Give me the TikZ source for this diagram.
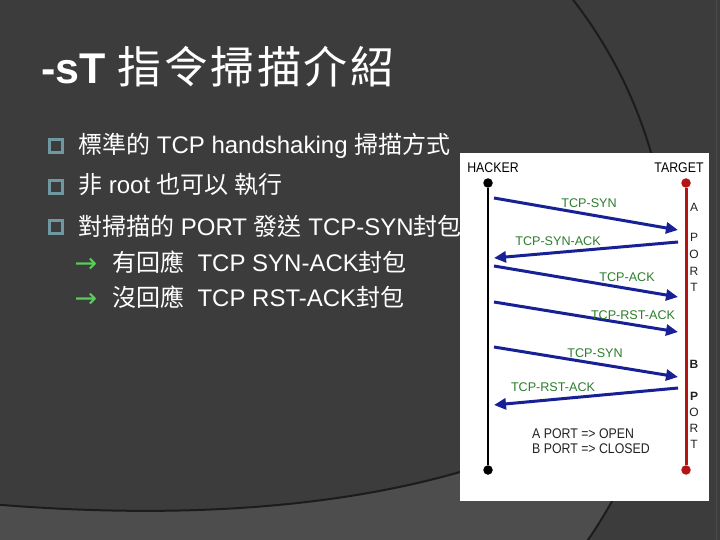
\documentclass[tikz,border=0pt]{standalone}
\usepackage{fontspec}
\setmainfont{Liberation Sans}
\newfontfamily\cjk{Noto Sans CJK TC}
\newfontfamily\djv{DejaVu Sans}
\newfontfamily\diagc{Liberation Sans}[FakeStretch=0.88]
\usetikzlibrary{arrows.meta}
\definecolor{bg}{HTML}{3C3C3C}
\definecolor{bglight}{HTML}{4D4D4D}
\definecolor{curvec}{HTML}{1C1C1C}
\definecolor{edgec}{HTML}{4A4A4A}
\definecolor{bulletc}{RGB}{110,152,162}
\definecolor{arrowgreen}{RGB}{90,205,90}
\definecolor{msgblue}{RGB}{24,32,150}
\definecolor{lblgreen}{RGB}{45,125,45}
\definecolor{tgtred}{RGB}{180,20,20}
\definecolor{inkc}{HTML}{222222}
\begin{document}
\begin{tikzpicture}[x=1pt,y=-1pt,
  dot/.style={circle, inner sep=0pt, minimum size=9.5pt},
  msg/.style={draw=msgblue, line width=3pt, -{Triangle[length=12pt,width=11pt]}},
  lbl/.style={text=lblgreen, font=\fontsize{12.6}{14}\selectfont, inner sep=0pt},
  hdr/.style={text=black, font=\diagc\fontsize{14}{16}\selectfont, inner sep=0pt, anchor=base},
  portl/.style={text=inkc, font=\fontsize{12}{14}\selectfont, inner sep=0pt},
  note/.style={text=inkc, font=\diagc\fontsize{14}{16}\selectfont, inner sep=0pt, anchor=base west},
  body/.style={text=white, font=\fontsize{24}{28}\selectfont, inner sep=0pt, anchor=base west},
  bulletbox/.style={draw=bulletc, line width=3pt, minimum size=13.5pt, inner sep=0pt},
  garrow/.style={text=arrowgreen, font=\djv\fontsize{27}{30}\selectfont, inner sep=0pt}
]
\useasboundingbox (0,0) rectangle (720,540);
\fill[bg] (0,0) rectangle (720,540);
\begin{scope}
  \clip (0,0) rectangle (720,540);
  \begin{scope}
    \clip (212,280) circle (457pt);
    \fill[bglight] (-10,504) .. controls (120,515) and (300,518) .. (460,472)
      .. controls (540,450) and (600,420) .. (700,350) -- (740,350) -- (740,560) -- (-10,560) -- cycle;
  \end{scope}
  \draw[curvec, line width=2pt] (-10,504) .. controls (120,515) and (300,518) .. (460,472)
      .. controls (540,450) and (600,420) .. (700,350);
  \draw[curvec, line width=2pt] (212,280) circle (457pt);
  \draw[edgec, line width=1.5pt] (716.5,0) -- (716.5,540);
\end{scope}

% diagram panel
\fill[white] (460,153) rectangle (709,501);

\node[hdr] (hacker) at (493,173) {HACKER};
\node[hdr] (target) at (679,173) {TARGET};

\node[dot, fill=black] (hTop) at (488,183) {};
\node[dot, fill=black] (hBot) at (488,470) {};
\node[dot, fill=tgtred] (tTop) at (686,183) {};
\node[dot, fill=tgtred] (tBot) at (686,470) {};
\draw[black, line width=2pt] (hTop) -- (hBot);
\draw[tgtred, line width=3pt] (tTop) -- (tBot);

\coordinate (a1s) at (494,198); \coordinate (a1e) at (678,230);
\coordinate (a2s) at (678,242); \coordinate (a2e) at (494,258);
\coordinate (a3s) at (494,266); \coordinate (a3e) at (678,297);
\coordinate (a4s) at (494,302); \coordinate (a4e) at (678,332);
\coordinate (a5s) at (494,347); \coordinate (a5e) at (678,377);
\coordinate (a6s) at (678,388); \coordinate (a6e) at (494,405);
\draw[msg] (a1s) -- (a1e);
\draw[msg] (a2s) -- (a2e);
\draw[msg] (a3s) -- (a3e);
\draw[msg] (a4s) -- (a4e);
\draw[msg] (a5s) -- (a5e);
\draw[msg] (a6s) -- (a6e);

\node[lbl] (l1) at (589,203) {TCP-SYN};
\node[lbl] (l2) at (558,241) {TCP-SYN-ACK};
\node[lbl] (l3) at (627,277) {TCP-ACK};
\node[lbl] (l4) at (633,315) {TCP-RST-ACK};
\node[lbl] (l5) at (595,353) {TCP-SYN};
\node[lbl] (l6) at (553,387) {TCP-RST-ACK};

\node[portl] (pA) at (694,207) {A};
\node[portl] (pA1) at (694,237) {P};
\node[portl] (pA2) at (694,254) {O};
\node[portl] (pA3) at (694,271) {R};
\node[portl] (pA4) at (694,287) {T};
\node[portl, font=\bfseries\fontsize{12}{14}\selectfont] (pB) at (694,364) {B};
\node[portl, font=\bfseries\fontsize{12}{14}\selectfont] (pB1) at (694,396) {P};
\node[portl] (pB2) at (694,412) {O};
\node[portl] (pB3) at (694,428) {R};
\node[portl] (pB4) at (694,444) {T};

\node[note] (n1) at (532,438) {A PORT => OPEN};
\node[note] (n2) at (532,453) {B PORT => CLOSED};

% title
\node[anchor=base west, inner sep=0pt, text=white, font=\fontsize{43}{50}\selectfont] (title) at (41,84)
  {{\bfseries -sT} {\fontsize{44}{50}\selectfont\cjk 指\kern2.5pt 令\kern2.5pt 掃\kern2.5pt 描\kern2.5pt 介\kern2.5pt 紹}};

% bullets
\node[bulletbox] (b1) at (56,146) {};
\node[bulletbox] (b2) at (56,187) {};
\node[bulletbox] (b3) at (56,227) {};
\node[body] (t1) at (78,154) {{\cjk 標準的} TCP handshaking {\cjk 掃描方式}};
\node[body] (t2) at (78,194) {{\cjk 非} root {\cjk 也可以 執行}};
\node[body] (t3) at (78,236) {{\cjk 對掃描的} PORT {\cjk 發送} TCP-SYN{\cjk 封包}};
\node[garrow] (g1) at (86,265) {→};
\node[garrow] (g2) at (86,300) {→};
\node[body] (t4) at (112,271) {{\cjk 有回應}\ \ TCP SYN-ACK{\cjk 封包}};
\node[body] (t5) at (112,306) {{\cjk 沒回應}\ \ TCP RST-ACK{\cjk 封包}};
\end{tikzpicture}
\end{document}
